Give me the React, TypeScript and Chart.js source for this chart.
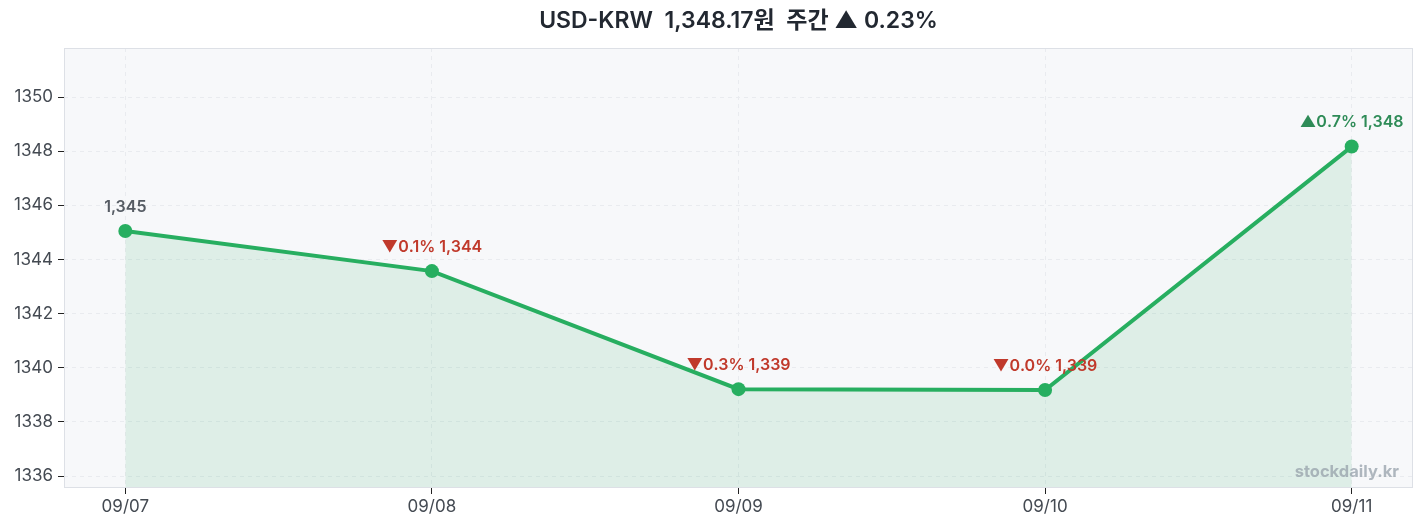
import React, { useEffect, useRef } from 'react';
import { Chart, registerables, Plugin } from 'chart.js';

Chart.register(...registerables);

const days: string[] = ['09/07', '09/08', '09/09', '09/10', '09/11'];
const rates: number[] = [1345.05, 1343.57, 1339.21, 1339.18, 1348.17];
const yTicks: number[] = [1336, 1338, 1340, 1342, 1344, 1346, 1348, 1350];

const FONT = 'Inter, "Noto Sans CJK KR", sans-serif';
const LINE = '#27ae60';
const UP = '#2e8b57';
const DOWN = '#c0392b';

const fmt = (v: number) => Math.round(v).toLocaleString('en-US');

const weekPct = ((rates[rates.length - 1] - rates[0]) / rates[0]) * 100;
const title = `USD-KRW  ${rates[rates.length - 1].toLocaleString('en-US', { minimumFractionDigits: 2 })}원  주간 ${
    weekPct >= 0 ? '▲' : '▼'
} ${Math.abs(weekPct).toFixed(2)}%`;

/**
 * Plot background, frame and title centred over the plot
 */
const frame: Plugin<'line'> = {
    id: 'frame',
    beforeDraw: (chart) => {
        const { ctx, chartArea: a } = chart;
        ctx.save();
        ctx.fillStyle = '#f7f8fa';
        ctx.fillRect(a.left, a.top, a.right - a.left, a.bottom - a.top);
        ctx.font = `600 23px ${FONT}`;
        ctx.fillStyle = '#222831';
        ctx.textAlign = 'center';
        ctx.textBaseline = 'middle';
        ctx.fillText(title, (a.left + a.right) / 2, 21);
        ctx.restore();
    },
    afterDraw: (chart) => {
        const { ctx, chartArea: a } = chart;
        ctx.save();
        ctx.strokeStyle = '#dde0e6';
        ctx.lineWidth = 1;
        ctx.strokeRect(a.left + 0.5, a.top + 0.5, a.right - a.left - 1, a.bottom - a.top - 1);
        ctx.restore();
    },
};

/**
 * Change labels above each point, plus the watermark
 */
const pointLabels: Plugin<'line'> = {
    id: 'pointLabels',
    afterDatasetsDraw: (chart) => {
        const { ctx, chartArea: a } = chart;
        const meta = chart.getDatasetMeta(0);
        ctx.save();
        ctx.font = `600 16px ${FONT}`;
        ctx.textAlign = 'center';
        ctx.textBaseline = 'middle';
        meta.data.forEach((pt, i) => {
            let text = fmt(rates[i]);
            let color = '#555b63';
            if (i > 0) {
                const pct = ((rates[i] - rates[i - 1]) / rates[i - 1]) * 100;
                const up = pct >= 0;
                text = `${up ? '▲' : '▼'}${Math.abs(pct).toFixed(1)}% ${fmt(rates[i])}`;
                color = up ? UP : DOWN;
            }
            ctx.fillStyle = color;
            ctx.fillText(text, pt.x, pt.y - 24);
        });
        ctx.font = `700 16.5px ${FONT}`;
        ctx.textAlign = 'right';
        ctx.textBaseline = 'alphabetic';
        ctx.fillStyle = 'rgba(150,160,170,0.75)';
        ctx.fillText('stockdaily.kr', a.right - 14, a.bottom - 11);
        ctx.restore();
    },
};

const App: React.FC = () => {
    const canvas = useRef<HTMLCanvasElement>(null);

    useEffect(() => {
        document.body.style.margin = '0';
        const chart = new Chart(canvas.current!, {
            type: 'line',
            data: {
                datasets: [
                    {
                        data: rates.map((v, i) => ({ x: i, y: v })),
                        borderColor: LINE,
                        borderWidth: 4,
                        tension: 0,
                        fill: 'start',
                        backgroundColor: 'rgba(39,174,96,0.12)',
                        pointRadius: 7,
                        pointBackgroundColor: LINE,
                        pointBorderWidth: 0,
                    },
                ],
            },
            options: {
                animation: false,
                responsive: false,
                layout: { padding: { left: 0, right: 13, top: 48, bottom: 0 } },
                plugins: {
                    legend: { display: false },
                    tooltip: { enabled: false },
                    title: { display: false },
                },
                scales: {
                    x: {
                        type: 'linear',
                        min: -0.2,
                        max: 4.2,
                        afterBuildTicks: (scale) => {
                            scale.ticks = days.map((_, i) => ({ value: i }));
                        },
                        afterFit: (scale) => {
                            scale.height = 41;
                        },
                        ticks: {
                            callback: (v) => days[Number(v)] ?? '',
                            color: '#444a52',
                            font: { family: FONT, size: 17 },
                            padding: 3,
                            maxRotation: 0,
                            autoSkip: false,
                        },
                        grid: {
                            color: '#e9ebef',
                            tickColor: '#222',
                            tickLength: 6,
                        },
                        border: { display: false, dash: [4, 4] },
                    },
                    y: {
                        min: 1335.56,
                        max: 1351.81,
                        afterBuildTicks: (scale) => {
                            scale.ticks = yTicks.map((v) => ({ value: v }));
                        },
                        afterFit: (scale) => {
                            scale.width = 64;
                        },
                        ticks: {
                            callback: (v) => String(v),
                            color: '#444a52',
                            font: { family: FONT, size: 17 },
                            padding: 5,
                        },
                        grid: {
                            color: '#e9ebef',
                            tickColor: '#222',
                            tickLength: 6,
                        },
                        border: { display: false, dash: [4, 4] },
                    },
                },
            },
            plugins: [frame, pointLabels],
        });
        return () => chart.destroy();
    });

    return <canvas ref={canvas} width={1426} height={529}></canvas>;
};

export default App;
